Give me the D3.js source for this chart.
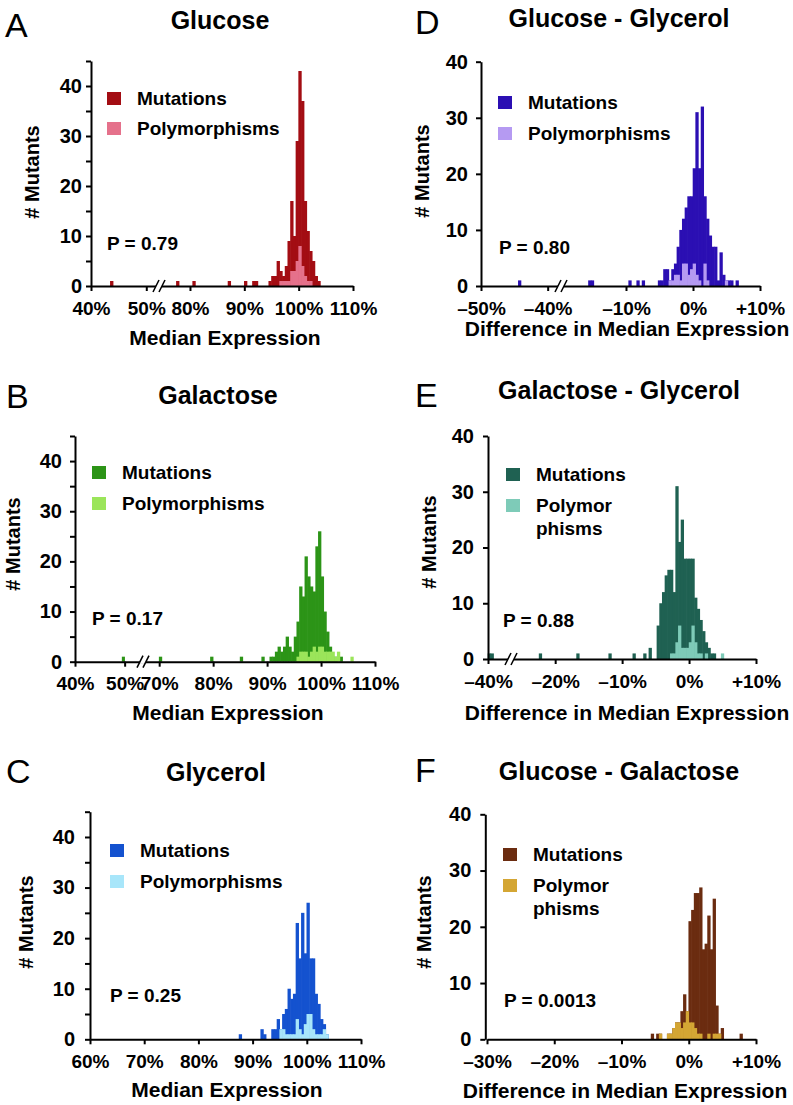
<!DOCTYPE html>
<html>
<head>
<meta charset="utf-8">
<script src="https://cdn.jsdelivr.net/npm/d3@7"></script>
<style>
  body { margin: 0; background: #fff; }
  svg { font-family: "Liberation Sans", Arial, Helvetica, sans-serif; font-weight: bold; }
</style>
</head>
<body>
<svg width="793" height="1105"></svg>
<script>
// ---- histogram data: [bin start (%), count] ----
// A  Glucose (0.5% bins)
var glucoseMut = [[43.5,1],[77.5,1],[80.5,1],[87,1],[90,1],[91.5,1],[92,1],[94.5,1],[95,2],[95.5,2],
  [96,5],[96.5,3],[97,2],[97.5,4],[98,9],[98.5,17],[99,10],[99.5,29],[100,43],[100.5,37],[101,17],
  [101.5,11],[102,7],[102.5,5],[103,2],[103.5,1]];
var glucosePoly = [[96.5,1],[97,1],[97.5,1],[98,1],[98.5,3],[99,3],[99.5,5],[100,8],[100.5,4],[101,2],[101.5,1],[102,1]];

// B  Galactose
var galactoseMut = [[49.5,1],[70,1],[79.5,1],[85,1],[89,1],[90.5,1],[91,1],[91.5,2],[92,3],[92.5,2],[93,3],
  [93.5,5],[94,3],[94.5,2],[95,5],[95.5,8],[96,15],[96.5,13],[97,21],[97.5,17],[98,15],[98.5,14],[99,23],
  [99.5,26],[100,17],[100.5,10],[101,6],[101.5,3],[102,1],[102.5,1],[103.5,1]];
var galactosePoly = [[95.5,1],[96,2],[96.5,2],[97,2],[97.5,1],[98,2],[98.5,3],[99,2],[99.5,3],[100,3],
  [100.5,2],[101,2],[101.5,2],[102,2],[102.5,1],[103,2],[105.5,1]];

// C  Glycerol
var glycerolMut = [[87.5,1],[91.5,2],[92,1],[93.5,2],[94,2],[94.5,4],[95,2],[95.5,5],[96,6],[96.5,10],[97,8],
  [97.5,9],[98,23],[98.5,16],[99,25],[99.5,17],[100,27],[100.5,16],[101,16],[101.5,9],[102,7],[102.5,4],
  [103,3],[103.5,1]];
var glycerolPoly = [[95,2],[95.5,2],[96,1],[96.5,1],[97,1],[97.5,1],[98,4],[98.5,2],[99,1],[99.5,3],[100,5],
  [100.5,5],[101,2],[101.5,1],[102,1],[102.5,1],[103,2],[103.5,1]];

// D  Glucose - Glycerol (0.4% bins)
var gluGlyMut = [[-44.4,1],[-15.6,1],[-15.2,1],[-9.6,1],[-8.4,1],[-7.6,1],[-5.2,1],[-4.8,1],[-4.4,3],[-4.0,3],
  [-3.6,1],[-3.2,3],[-2.8,4],[-2.4,7],[-2.0,10],[-1.6,12],[-1.2,14],[-0.8,16],[-0.4,16],[0,21],[0.4,31],
  [0.8,21],[1.2,32],[1.6,16],[2.0,12],[2.4,9],[2.8,7],[3.2,7],[3.6,1],[4.0,6],[4.4,2],[4.8,1],[5.2,1],
  [5.6,1],[6.4,1]];
var gluGlyPoly = [[-3.6,1],[-3.2,1],[-2.8,2],[-2.4,2],[-2.0,1],[-1.6,4],[-1.2,4],[-0.8,2],[-0.4,3],[0,4],
  [0.4,2],[0.8,1],[1.6,4],[2.0,1],[4.8,1]];

// E  Galactose - Glycerol
var galGlyMut = [[-40.0,1],[-39.6,1],[-22.4,1],[-16.8,1],[-12.0,1],[-8.4,1],[-6.8,1],[-6.0,2],[-4.8,6],
  [-4.4,10],[-4.0,12],[-3.6,15],[-3.2,16],[-2.8,16],[-2.4,12],[-2.0,31],[-1.6,21],[-1.2,25],[-0.8,18],
  [-0.4,18],[0,18],[0.4,18],[0.8,11],[1.2,9],[1.6,7],[2.0,5],[2.4,3],[2.8,2],[3.2,1],[3.6,1]];
var galGlyPoly = [[-2.8,1],[-2.4,1],[-2.0,3],[-1.6,6],[-1.2,2],[-0.8,2],[-0.4,2],[0,3],[0.4,6],[0.8,3],
  [1.2,1],[1.6,1],[2.4,1],[4.8,1]];

// F  Glucose - Galactose
var gluGalMut = [[-5.6,1],[-4.8,1],[-4.4,1],[-3.2,1],[-2.8,1],[-2.4,2],[-2.0,3],[-1.6,3],[-1.2,5],[-0.8,8],
  [-0.4,5],[0,21],[0.4,23],[0.8,26],[1.2,26],[1.6,27],[2.0,16],[2.4,17],[2.8,22],[3.2,16],[3.6,25],[4.0,6],
  [4.4,1],[4.8,2],[7.6,1]];
var gluGalPoly = [[-4.4,1],[-3.2,1],[-2.8,1],[-2.4,2],[-2.0,3],[-1.6,3],[-1.2,2],[-0.8,3],[-0.4,5],[0,3],
  [0.4,3],[0.8,2],[1.2,1],[1.6,1],[2.8,1],[3.6,1],[4.0,1],[4.4,1]];

// tick values and labels
var ticksA = [40, 50, 80, 90, 100, 110];
var ticksB = [40, 50, 70, 80, 90, 100, 110];
var ticksC = [60, 70, 80, 90, 100, 110];
var ticksD = [-50, -40, -10, 0, 10];
var ticksE = [-40, -20, -10, 0, 10];
var ticksF = [-30, -20, -10, 0, 10];
var legendLabels = ["Mutations", "Polymorphisms"];
var legendLabelsSplit = ["Mutations", "Polymor\nphisms"];
var pValues = ["P = 0.79", "P = 0.17", "P = 0.25", "P = 0.80", "P = 0.88", "P = 0.0013"];

var svg = d3.select("svg");

var pctFmt = function(d) { return d + "%"; };
var diffFmt = function(d) { return (d > 0 ? "+" : d < 0 ? "\u2013" : "") + Math.abs(d) + "%"; };

// layout for each panel
var panels = [
  { letter: "A", lx: 5, ly: 37, title: "Glucose", tx: 220, ty: 29,
    ax: 91, top: 61, zero: 286, ymax: 45, yStep: 5, yGap: 9, ytx: 39, yty: 172,
    xDomain: [40, 52.3, 74.3, 110], xRange: [91, 159, 159, 353], brk: 159, ticks: ticksA, fmt: pctFmt,
    xLab: 315, xTitle: "Median Expression", xtx: 225, xty: 345,
    legX: 107, legY: 92, legGap: 30, labels: legendLabels, px: 107, py: 250, p: pValues[0],
    bin: 0.5, mut: glucoseMut, poly: glucosePoly, cMut: "#a30d13", cPoly: "#e5718b" },
  { letter: "B", lx: 6, ly: 408, title: "Galactose", tx: 218, ty: 404,
    ax: 75, top: 436, zero: 661.7, ymax: 45, yStep: 5, yGap: 13, ytx: 20, yty: 544,
    xDomain: [40, 53.7, 67, 110], xRange: [75, 143, 143, 375], brk: 143, ticks: ticksB, fmt: pctFmt,
    xLab: 690, xTitle: "Median Expression", xtx: 228, xty: 720,
    legX: 92, legY: 466, legGap: 31, labels: legendLabels, px: 92, py: 625, p: pValues[1],
    bin: 0.5, mut: galactoseMut, poly: galactosePoly, cMut: "#2c9417", cPoly: "#9be55a" },
  { letter: "C", lx: 6, ly: 783, title: "Glycerol", tx: 216, ty: 781,
    ax: 90, top: 811.7, zero: 1039.3, ymax: 45, yStep: 5, yGap: 15, ytx: 33, yty: 922,
    xDomain: [60, 110], xRange: [90, 361], brk: null, ticks: ticksC, fmt: pctFmt,
    xLab: 1068, xTitle: "Median Expression", xtx: 227, xty: 1097,
    legX: 110, legY: 844, legGap: 31, labels: legendLabels, px: 110, py: 1002, p: pValues[2],
    bin: 0.5, mut: glycerolMut, poly: glycerolPoly, cMut: "#1452cf", cPoly: "#a8e6fa" },
  { letter: "D", lx: 415, ly: 34, title: "Glucose - Glycerol", tx: 619, ty: 27,
    ax: 481, top: 61.7, zero: 286, ymax: 40, yStep: 10, yGap: 13, ytx: 429, yty: 171,
    xDomain: [-50, -38, -19.7, 10], xRange: [481, 561, 561, 760], brk: 561, ticks: ticksD, fmt: diffFmt,
    xLab: 315, xTitle: "Difference in Median Expression", xtx: 627, xty: 336,
    legX: 498, legY: 96, legGap: 31, labels: legendLabels, px: 499, py: 254, p: pValues[3],
    bin: 0.4, mut: gluGlyMut, poly: gluGlyPoly, cMut: "#2b0fb3", cPoly: "#b59af2" },
  { letter: "E", lx: 415, ly: 407, title: "Galactose - Glycerol", tx: 619, ty: 399,
    ax: 488, top: 436, zero: 659, ymax: 40, yStep: 10, yGap: 14, ytx: 436, yty: 542,
    xDomain: [-40, -36.7, -26.6, 10], xRange: [488, 511, 511, 756], brk: 511, ticks: ticksE, fmt: diffFmt,
    xLab: 688, xTitle: "Difference in Median Expression", xtx: 627, xty: 720,
    legX: 506, legY: 468, legGap: 31, labels: legendLabelsSplit, px: 503, py: 627, p: pValues[4],
    bin: 0.4, mut: galGlyMut, poly: galGlyPoly, cMut: "#1f6152", cPoly: "#7ecbb8" },
  { letter: "F", lx: 415, ly: 782, title: "Glucose - Galactose", tx: 619, ty: 780,
    ax: 485.3, top: 814.3, zero: 1039.3, ymax: 40, yStep: 10, yGap: 14, ytx: 431, yty: 922,
    xDomain: [-30, 10], xRange: [487, 756], brk: null, ticks: ticksF, fmt: diffFmt,
    xLab: 1068, xTitle: "Difference in Median Expression", xtx: 625, xty: 1098,
    legX: 503, legY: 848, legGap: 31, labels: legendLabelsSplit, px: 504, py: 1007, p: pValues[5],
    bin: 0.4, mut: gluGalMut, poly: gluGalPoly, cMut: "#6b2c10", cPoly: "#d4a634" }
];

panels.forEach(drawPanel);

function drawPanel(p) {
  var g = svg.append("g");
  var x = d3.scaleLinear().domain(p.xDomain).range(p.xRange);
  var y = d3.scaleLinear().domain([0, p.ymax]).range([p.zero, p.top]);

  // bars: mutations behind, polymorphisms in front (small overlap hides seams)
  [[p.mut, p.cMut], [p.poly, p.cPoly]].forEach(function(s) {
    g.append("g").selectAll("rect")
      .data(s[0])
      .enter().append("rect")
        .attr("x", function(d) { return x(d[0]) - 0.3; })
        .attr("width", function(d) { return x(d[0] + p.bin) - x(d[0]) + 0.6; })
        .attr("y", function(d) { return y(d[1]); })
        .attr("height", function(d) { return p.zero - y(d[1]); })
        .attr("fill", s[1]);
  });

  // y axis
  var ya = g.append("g")
      .attr("transform", "translate(" + p.ax + ",0)")
      .call(d3.axisLeft(y)
        .tickValues(d3.range(0, p.ymax + 0.01, p.yStep))
        .tickSize(5).tickSizeOuter(0).tickPadding(p.yGap - 5)
        .tickFormat(function(d) { return d % 10 === 0 ? d : ""; }));
  ya.attr("font-family", null).attr("font-size", null);
  ya.select(".domain").attr("stroke-width", 2).attr("stroke", "#000");
  ya.selectAll(".tick line").attr("stroke-width", 2).attr("stroke", "#000");
  ya.selectAll("text").attr("font-size", 20).attr("fill", "#000");

  // x axis
  var xa = g.append("g")
      .attr("transform", "translate(0," + p.zero + ")")
      .call(d3.axisBottom(x)
        .tickValues(p.ticks)
        .tickSize(5).tickSizeOuter(0)
        .tickFormat(p.fmt));
  xa.attr("font-family", null).attr("font-size", null);
  xa.select(".domain").attr("stroke-width", 2).attr("stroke", "#000");
  xa.selectAll(".tick line").attr("stroke-width", 2).attr("stroke", "#000");
  xa.selectAll("text").attr("font-size", 19).attr("fill", "#000")
    .attr("y", p.xLab - p.zero).attr("dy", null);

  // axis break
  if (p.brk != null) {
    g.append("rect").attr("x", p.brk - 3).attr("y", p.zero - 2)
      .attr("width", 6).attr("height", 4).attr("fill", "#fff");
    [-3, 3].forEach(function(o) {
      g.append("line")
        .attr("x1", p.brk + o - 3).attr("y1", p.zero + 6)
        .attr("x2", p.brk + o + 3).attr("y2", p.zero - 6)
        .attr("stroke", "#000").attr("stroke-width", 1.5);
    });
  }

  // titles
  g.append("text").attr("x", p.lx).attr("y", p.ly)
    .attr("font-size", 34).attr("font-weight", "normal").text(p.letter);
  g.append("text").attr("x", p.tx).attr("y", p.ty)
    .attr("text-anchor", "middle").attr("font-size", 25).text(p.title);
  g.append("text").attr("x", p.xtx).attr("y", p.xty)
    .attr("text-anchor", "middle").attr("font-size", 21).text(p.xTitle);
  g.append("text")
    .attr("transform", "translate(" + p.ytx + "," + p.yty + ") rotate(-90)")
    .attr("text-anchor", "middle").attr("font-size", 20).text("# Mutants");

  // legend
  var colors = [p.cMut, p.cPoly];
  p.labels.forEach(function(lab, i) {
    var ty = p.legY + i * p.legGap;
    g.append("rect").attr("x", p.legX).attr("y", ty)
      .attr("width", 14).attr("height", 13).attr("fill", colors[i]);
    var t = g.append("text").attr("x", p.legX + 30).attr("y", ty + 12.5).attr("font-size", 19);
    lab.split("\n").forEach(function(line, j) {
      t.append("tspan").attr("x", p.legX + 30).attr("dy", j ? 23 : 0).text(line);
    });
  });

  // P value
  g.append("text").attr("x", p.px).attr("y", p.py).attr("font-size", 19).text(p.p);
}
</script>
</body>
</html>
